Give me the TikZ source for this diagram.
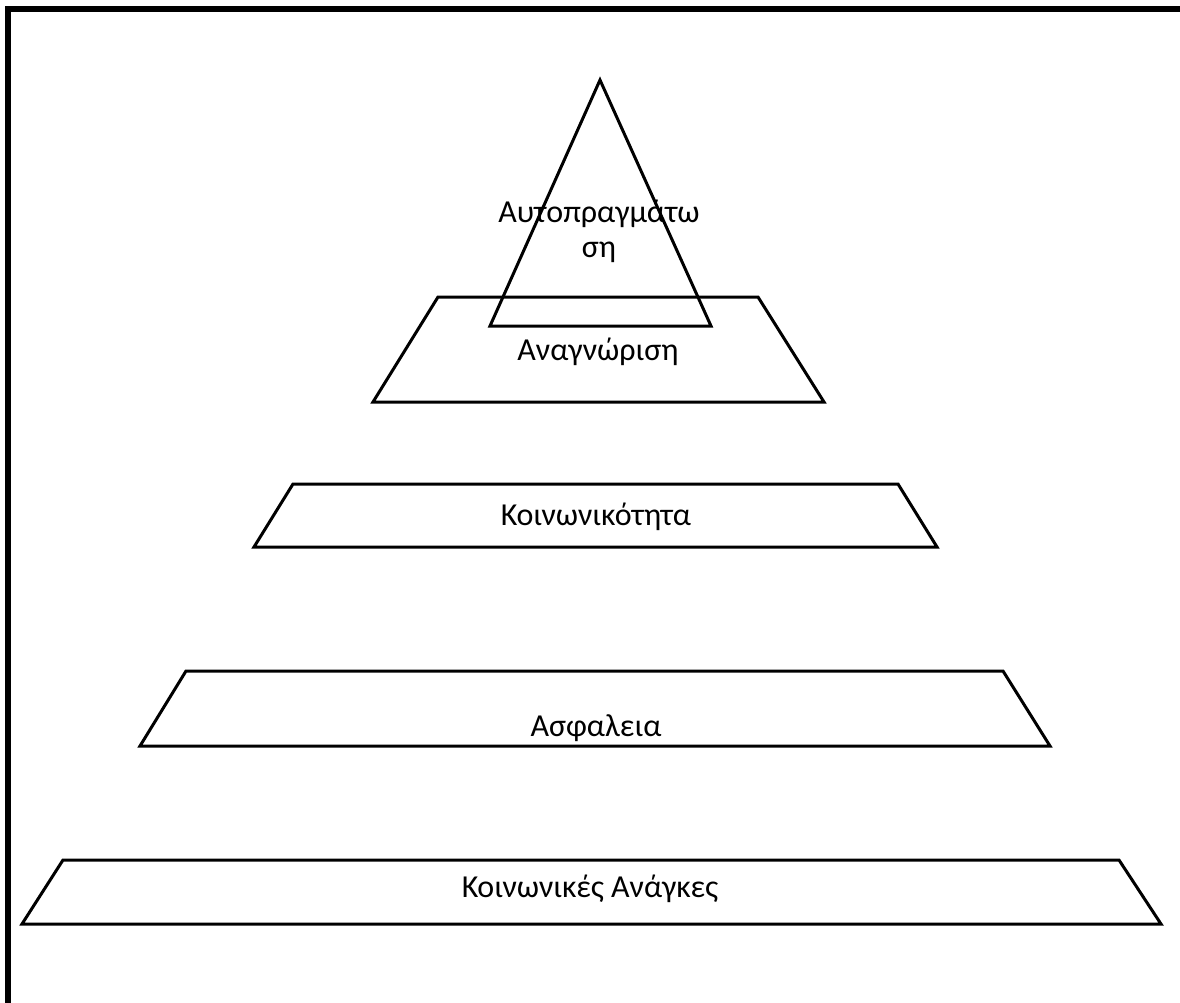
\documentclass[tikz,border=0pt]{standalone}
\usepackage{fontspec}
\setmainfont{Carlito}
\begin{document}
\begin{tikzpicture}[x=1pt,y=-1pt,
  level/.style={draw=black,line width=3pt,line join=miter},
  frame/.style={draw=black,line width=6pt,line join=miter},
  lbl/.style={font=\fontsize{32}{35}\selectfont,align=center,inner sep=0pt}]
\useasboundingbox (0,0) rectangle (1180,1003);
% outer frame (open at right and bottom)
\draw[frame] (8,1010) -- (8,9.5) -- (1190,9.5);
% pyramid levels
\draw[level] (63,860) -- (1119,860) -- (1161,924) -- (22,924) -- cycle;
\draw[level] (186,671) -- (1003,671) -- (1050,746) -- (140,746) -- cycle;
\draw[level] (293,484) -- (898,484) -- (937,547) -- (254,547) -- cycle;
\draw[level] (438,297) -- (758,297) -- (824,402) -- (373,402) -- cycle;
\draw[level] (600,80) -- (711,326) -- (490,326) -- cycle;
% labels
\node[lbl] (self) at (599,231) {Αυτοπραγμάτω\\ση};
\node[lbl] (recog) at (598,352) {Αναγνώριση};
\node[lbl] (social) at (596,517) {Κοινωνικότητα};
\node[lbl] (safety) at (596,728) {Ασφαλεια};
\node[lbl] (needs) at (590,889) {Κοινωνικές Ανάγκες};
\end{tikzpicture}
\end{document}
